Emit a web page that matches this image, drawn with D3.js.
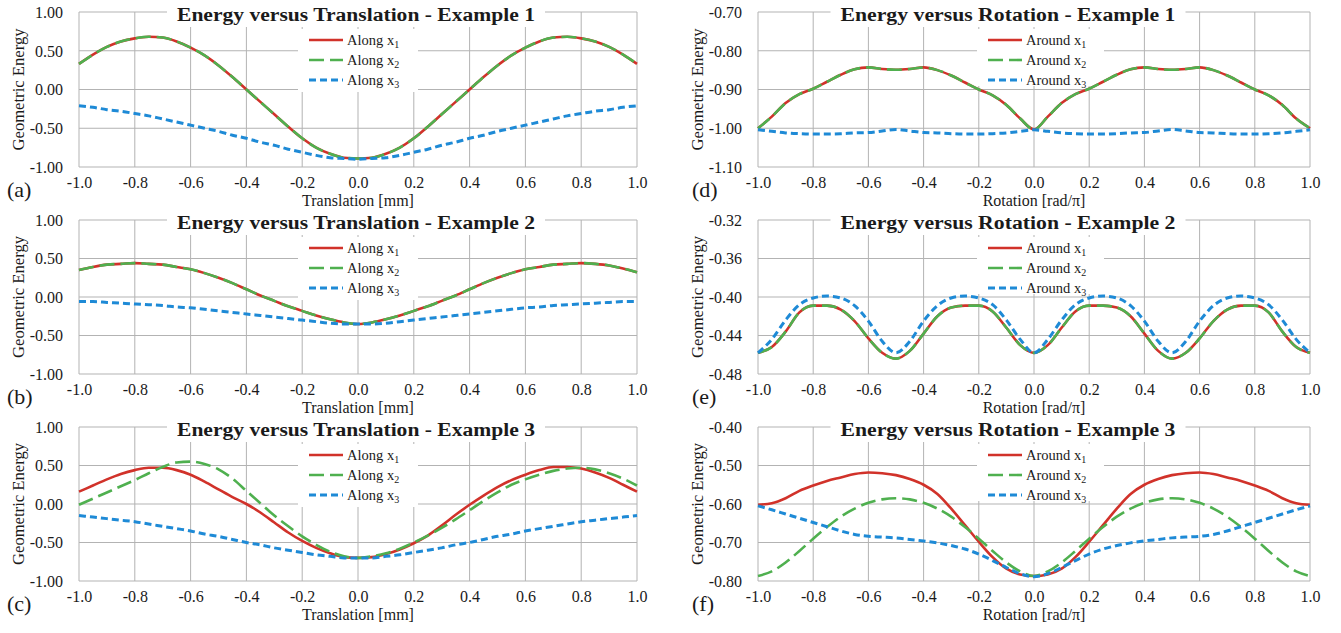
<!DOCTYPE html>
<html>
<head>
<meta charset="utf-8">
<script src="https://cdn.jsdelivr.net/npm/d3@7"></script>
<style>
  html, body { margin: 0; padding: 0; background: #fff; }
  svg { display: block; }
  text { font-family: "Liberation Serif", "Times New Roman", serif; fill: #1a1a1a; }
</style>
</head>
<body>
<svg id="chart" width="1341" height="633"></svg>
<script>
// ---------------- data ----------------
const xValues = [-1.00,-0.95,-0.90,-0.85,-0.80,-0.75,-0.70,-0.65,-0.60,-0.55,-0.50,-0.45,-0.40,-0.35,-0.30,-0.25,-0.20,-0.15,-0.10,-0.05,0.00,
                  0.05,0.10,0.15,0.20,0.25,0.30,0.35,0.40,0.45,0.50,0.55,0.60,0.65,0.70,0.75,0.80,0.85,0.90,0.95,1.00];

const xTicks = [-1.0,-0.8,-0.6,-0.4,-0.2,0.0,0.2,0.4,0.6,0.8,1.0];
const yTicksTranslation = [-1.00,-0.50,0.00,0.50,1.00];
const yTicksD = [-1.10,-1.00,-0.90,-0.80,-0.70];
const yTicksE = [-0.48,-0.44,-0.40,-0.36,-0.32];
const yTicksF = [-0.80,-0.70,-0.60,-0.50,-0.40];

// (a) Translation - Example 1
const a_x1 = [0.33,0.45,0.55,0.62,0.66,0.68,0.67,0.62,0.54,0.44,0.31,0.16,0.00,-0.16,-0.32,-0.48,-0.63,-0.75,-0.83,-0.88,-0.89,
              -0.88,-0.83,-0.75,-0.63,-0.48,-0.32,-0.16,0.00,0.16,0.31,0.44,0.54,0.62,0.67,0.68,0.66,0.62,0.55,0.45,0.33];
const a_x2 = [0.33,0.45,0.55,0.62,0.66,0.68,0.67,0.62,0.54,0.44,0.31,0.16,0.00,-0.16,-0.32,-0.48,-0.63,-0.75,-0.83,-0.88,-0.89,
              -0.88,-0.83,-0.75,-0.63,-0.48,-0.32,-0.16,0.00,0.16,0.31,0.44,0.54,0.62,0.67,0.68,0.66,0.62,0.55,0.45,0.33];
const a_x3 = [-0.21,-0.23,-0.26,-0.28,-0.31,-0.34,-0.38,-0.42,-0.46,-0.50,-0.54,-0.59,-0.63,-0.68,-0.72,-0.77,-0.81,-0.85,-0.88,-0.89,-0.90,
              -0.89,-0.88,-0.85,-0.81,-0.77,-0.72,-0.68,-0.63,-0.59,-0.54,-0.50,-0.46,-0.42,-0.38,-0.34,-0.31,-0.28,-0.26,-0.23,-0.21];

// (b) Translation - Example 2
const b_x1 = [0.35,0.39,0.42,0.43,0.44,0.43,0.42,0.39,0.36,0.31,0.25,0.18,0.10,0.02,-0.05,-0.12,-0.18,-0.24,-0.29,-0.33,-0.35,
              -0.33,-0.29,-0.24,-0.18,-0.12,-0.05,0.02,0.10,0.18,0.25,0.31,0.36,0.39,0.42,0.43,0.44,0.43,0.41,0.37,0.32];
const b_x2 = [0.35,0.39,0.42,0.43,0.44,0.43,0.42,0.39,0.36,0.31,0.25,0.18,0.10,0.02,-0.05,-0.12,-0.18,-0.24,-0.29,-0.33,-0.35,
              -0.33,-0.29,-0.24,-0.18,-0.12,-0.05,0.02,0.10,0.18,0.25,0.31,0.36,0.39,0.42,0.43,0.44,0.43,0.41,0.37,0.32];
const b_x3 = [-0.06,-0.06,-0.07,-0.08,-0.09,-0.10,-0.11,-0.13,-0.14,-0.16,-0.18,-0.20,-0.22,-0.24,-0.26,-0.28,-0.30,-0.32,-0.34,-0.35,-0.35,
              -0.35,-0.34,-0.32,-0.30,-0.28,-0.26,-0.24,-0.22,-0.20,-0.18,-0.16,-0.14,-0.13,-0.11,-0.10,-0.09,-0.08,-0.07,-0.06,-0.06];

// (c) Translation - Example 3
const c_x1 = [0.16,0.24,0.32,0.39,0.44,0.47,0.47,0.44,0.38,0.29,0.19,0.09,0.00,-0.11,-0.24,-0.37,-0.48,-0.57,-0.64,-0.69,-0.70,
              -0.69,-0.65,-0.59,-0.51,-0.41,-0.28,-0.14,-0.01,0.11,0.22,0.31,0.38,0.44,0.48,0.48,0.46,0.41,0.34,0.25,0.16];
const c_x2 = [-0.01,0.07,0.15,0.23,0.31,0.40,0.48,0.54,0.55,0.52,0.45,0.33,0.17,0.01,-0.15,-0.29,-0.42,-0.53,-0.62,-0.68,-0.70,
              -0.68,-0.64,-0.58,-0.50,-0.41,-0.31,-0.20,-0.08,0.04,0.15,0.25,0.32,0.38,0.43,0.46,0.47,0.45,0.40,0.33,0.24];
const c_x3 = [-0.15,-0.17,-0.19,-0.21,-0.23,-0.26,-0.29,-0.32,-0.35,-0.39,-0.42,-0.46,-0.50,-0.53,-0.57,-0.60,-0.63,-0.66,-0.68,-0.70,-0.70,
              -0.70,-0.68,-0.66,-0.63,-0.60,-0.57,-0.53,-0.50,-0.46,-0.42,-0.39,-0.35,-0.32,-0.29,-0.26,-0.23,-0.21,-0.19,-0.17,-0.15];

// (d) Rotation - Example 1
const d_x1 = [-1.000,-0.970,-0.935,-0.912,-0.898,-0.880,-0.862,-0.848,-0.843,-0.847,-0.849,-0.847,-0.843,-0.850,-0.864,-0.882,-0.900,-0.915,-0.940,-0.975,-1.003,
              -0.970,-0.935,-0.912,-0.898,-0.880,-0.862,-0.848,-0.843,-0.847,-0.849,-0.847,-0.843,-0.850,-0.864,-0.882,-0.900,-0.915,-0.940,-0.975,-1.000];
const d_x2 = [-1.000,-0.970,-0.935,-0.912,-0.898,-0.880,-0.862,-0.848,-0.843,-0.847,-0.849,-0.847,-0.843,-0.850,-0.864,-0.882,-0.900,-0.915,-0.940,-0.975,-1.003,
              -0.970,-0.935,-0.912,-0.898,-0.880,-0.862,-0.848,-0.843,-0.847,-0.849,-0.847,-0.843,-0.850,-0.864,-0.882,-0.900,-0.915,-0.940,-0.975,-1.000];
const d_x3 = [-1.004,-1.008,-1.012,-1.014,-1.015,-1.015,-1.014,-1.012,-1.011,-1.007,-1.003,-1.007,-1.011,-1.012,-1.014,-1.015,-1.015,-1.014,-1.012,-1.008,-1.004,
              -1.008,-1.012,-1.014,-1.015,-1.015,-1.014,-1.012,-1.011,-1.007,-1.003,-1.007,-1.011,-1.012,-1.014,-1.015,-1.015,-1.014,-1.012,-1.008,-1.004];

// (e) Rotation - Example 2
const e_x1 = [-0.458,-0.452,-0.436,-0.416,-0.409,-0.409,-0.413,-0.425,-0.443,-0.458,-0.464,-0.456,-0.438,-0.420,-0.411,-0.409,-0.409,-0.415,-0.432,-0.450,-0.458,
              -0.450,-0.432,-0.415,-0.409,-0.409,-0.411,-0.420,-0.438,-0.456,-0.464,-0.458,-0.443,-0.425,-0.413,-0.409,-0.409,-0.416,-0.436,-0.452,-0.458];
const e_x2 = [-0.458,-0.452,-0.436,-0.416,-0.409,-0.409,-0.413,-0.425,-0.443,-0.458,-0.464,-0.456,-0.438,-0.420,-0.411,-0.409,-0.409,-0.415,-0.432,-0.450,-0.458,
              -0.450,-0.432,-0.415,-0.409,-0.409,-0.411,-0.420,-0.438,-0.456,-0.464,-0.458,-0.443,-0.425,-0.413,-0.409,-0.409,-0.416,-0.436,-0.452,-0.458];
const e_x3 = [-0.458,-0.444,-0.424,-0.408,-0.401,-0.399,-0.401,-0.409,-0.425,-0.446,-0.458,-0.446,-0.425,-0.409,-0.401,-0.399,-0.401,-0.408,-0.424,-0.444,-0.458,
              -0.444,-0.424,-0.408,-0.401,-0.399,-0.401,-0.409,-0.425,-0.446,-0.458,-0.446,-0.425,-0.409,-0.401,-0.399,-0.401,-0.408,-0.424,-0.444,-0.458];

// (f) Rotation - Example 3
const f_x1 = [-0.602,-0.598,-0.585,-0.566,-0.552,-0.540,-0.531,-0.522,-0.518,-0.520,-0.525,-0.535,-0.550,-0.574,-0.612,-0.655,-0.698,-0.738,-0.768,-0.783,-0.787,
              -0.783,-0.768,-0.738,-0.698,-0.655,-0.612,-0.574,-0.550,-0.535,-0.525,-0.520,-0.518,-0.522,-0.531,-0.540,-0.552,-0.566,-0.585,-0.598,-0.602];
const f_x2 = [-0.787,-0.775,-0.752,-0.722,-0.690,-0.660,-0.633,-0.612,-0.597,-0.588,-0.585,-0.588,-0.597,-0.612,-0.633,-0.660,-0.690,-0.722,-0.752,-0.775,-0.787,
              -0.775,-0.752,-0.722,-0.690,-0.660,-0.633,-0.612,-0.597,-0.588,-0.585,-0.588,-0.597,-0.612,-0.633,-0.660,-0.690,-0.722,-0.752,-0.775,-0.787];
const f_x3 = [-0.605,-0.615,-0.626,-0.637,-0.648,-0.659,-0.670,-0.679,-0.684,-0.686,-0.688,-0.692,-0.696,-0.701,-0.708,-0.717,-0.730,-0.747,-0.765,-0.781,-0.789,
              -0.781,-0.765,-0.747,-0.730,-0.717,-0.708,-0.701,-0.696,-0.692,-0.688,-0.686,-0.684,-0.679,-0.670,-0.659,-0.648,-0.637,-0.626,-0.615,-0.605];

const titles = ["Energy versus Translation - Example 1","Energy versus Translation - Example 2","Energy versus Translation - Example 3",
                "Energy versus Rotation - Example 1","Energy versus Rotation - Example 2","Energy versus Rotation - Example 3"];
const panelLetters = ["(a)","(b)","(c)","(d)","(e)","(f)"];
const xAxisTitles = ["Translation [mm]","Rotation [rad/π]"];
const yAxisTitle = "Geometric Energy";
const legendPrefixes = ["Along","Around"];

// ---------------- layout / style ----------------
const colLeft = [79, 758], colRight = [637, 1310];
const rowTop = [12, 220, 427], rowBottom = [167, 374, 581];
const titleCenter = [356, 1008];
const titleWidth = [358, 335];
const seriesStyle = [
  {color:"#d1322a", width:2.6, dash:null},
  {color:"#4fb04f", width:2.6, dash:"15,6"},
  {color:"#1e8ad6", width:3.0, dash:"7,4"}
];
const gridColor = "#b3b3b3";

const panels = [
  {col:0,row:0,series:[a_x1,a_x2,a_x3],yTicks:yTicksTranslation},
  {col:0,row:1,series:[b_x1,b_x2,b_x3],yTicks:yTicksTranslation},
  {col:0,row:2,series:[c_x1,c_x2,c_x3],yTicks:yTicksTranslation},
  {col:1,row:0,series:[d_x1,d_x2,d_x3],yTicks:yTicksD},
  {col:1,row:1,series:[e_x1,e_x2,e_x3],yTicks:yTicksE},
  {col:1,row:2,series:[f_x1,f_x2,f_x3],yTicks:yTicksF}
];

const svg = d3.select("#chart");

panels.forEach((p, i) => {
  const L = colLeft[p.col], R = colRight[p.col], T = rowTop[p.row], B = rowBottom[p.row];
  const x = d3.scaleLinear().domain([-1, 1]).range([L, R]);
  const y = d3.scaleLinear().domain(d3.extent(p.yTicks)).range([B, T]);
  const g = svg.append("g");

  // gridlines (frame is made of the outermost gridlines)
  g.append("g").selectAll("line").data(p.yTicks).join("line")
    .attr("x1", L).attr("x2", R).attr("y1", d => y(d)).attr("y2", d => y(d))
    .attr("stroke", gridColor).attr("stroke-width", 1);
  g.append("g").selectAll("line").data(xTicks).join("line")
    .attr("x1", d => x(d)).attr("x2", d => x(d)).attr("y1", T).attr("y2", B)
    .attr("stroke", gridColor).attr("stroke-width", 1);

  // axes labels via d3 axes
  const xAxis = d3.axisBottom(x).tickValues(xTicks).tickSize(0).tickPadding(0)
    .tickFormat(d => d.toFixed(1));
  const xa = g.append("g").attr("transform", `translate(0,${B + 21})`).call(xAxis);
  xa.select(".domain").remove();
  xa.selectAll("text").attr("dy", 0).attr("y", 0)
    .style("font-family", '"Liberation Serif", serif').style("font-size", "16px").attr("fill", "#1a1a1a");

  const yAxis = d3.axisLeft(y).tickValues(p.yTicks).tickSize(0).tickPadding(0)
    .tickFormat(d => d.toFixed(2));
  const ya = g.append("g").attr("transform", `translate(${L - 16},0)`).call(yAxis);
  ya.select(".domain").remove();
  ya.selectAll("text").attr("dy", "0.34em")
    .style("font-family", '"Liberation Serif", serif').style("font-size", "16px").attr("fill", "#1a1a1a");

  // title and legend backgrounds (hide gridlines only)
  const tc = titleCenter[p.col], tw = titleWidth[p.col];
  g.append("rect").attr("x", tc - tw / 2 - 10).attr("y", T - 11).attr("width", tw + 20).attr("height", 26).attr("fill", "#fff");
  const lg = p.col === 0
    ? {bx: 298, bw: 120, bh: 63, sx0: 309, sx1: 343, tx: 347}
    : {bx: 977, bw: 127, bh: 57, sx0: 988, sx1: 1022, tx: 1026};
  g.append("rect").attr("x", lg.bx).attr("y", T + 17).attr("width", lg.bw).attr("height", lg.bh).attr("fill", "#fff");

  // series
  const line = d3.line().x((d, k) => x(xValues[k])).y(d => y(d)).curve(d3.curveMonotoneX);
  p.series.forEach((s, k) => {
    const st = seriesStyle[k];
    g.append("path").datum(s).attr("d", line)
      .attr("fill", "none").attr("stroke", st.color).attr("stroke-width", st.width)
      .attr("stroke-dasharray", st.dash).attr("stroke-linejoin", "round");
  });

  // title text
  g.append("text").attr("x", tc).attr("y", T + 9).attr("text-anchor", "middle")
    .attr("textLength", tw).attr("lengthAdjust", "spacingAndGlyphs")
    .style("font-size", "18px").style("font-weight", "bold").text(titles[i]);

  // legend entries
  [0, 1, 2].forEach(k => {
    const ry = T + 28 + 20 * k;
    const st = seriesStyle[k];
    g.append("line").attr("x1", lg.sx0).attr("x2", lg.sx1).attr("y1", ry).attr("y2", ry)
      .attr("stroke", st.color).attr("stroke-width", st.width).attr("stroke-dasharray", st.dash);
    const t = g.append("text").attr("x", lg.tx).attr("y", ry + 5).style("font-size", "14.5px");
    t.append("tspan").text(legendPrefixes[p.col] + " x");
    t.append("tspan").attr("dy", 3).style("font-size", "10px").text(String(k + 1));
  });

  // axis titles
  g.append("text").attr("x", (L + R) / 2).attr("y", B + 39).attr("text-anchor", "middle")
    .style("font-size", "16px").text(xAxisTitles[p.col]);
  const yx = p.col === 0 ? 18 : 697;
  g.append("text").attr("transform", `translate(${yx},${(T + B) / 2}) rotate(-90)`)
    .attr("text-anchor", "middle").attr("dy", "0.35em")
    .attr("textLength", 122).attr("lengthAdjust", "spacingAndGlyphs")
    .style("font-size", "16px").text(yAxisTitle);

  // panel letter
  const lx = p.col === 0 ? 7 : 692;
  g.append("text").attr("x", lx).attr("y", B + 30).style("font-size", "22px").text(panelLetters[i]);
});
</script>
</body>
</html>
